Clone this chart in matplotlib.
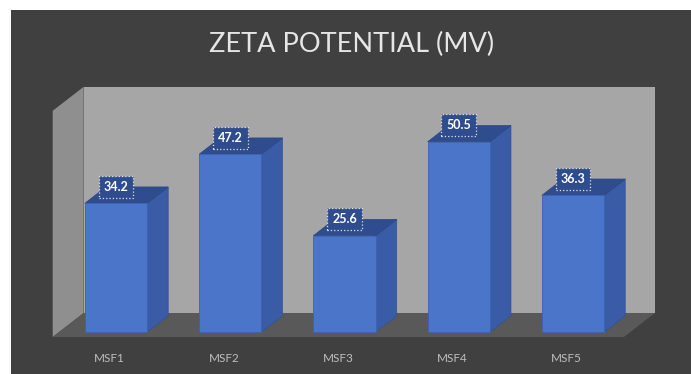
import matplotlib
matplotlib.use("Agg")
import matplotlib.pyplot as plt
from matplotlib.patches import Polygon, Rectangle

# --- data ---
categories = ["MSF1", "MSF2", "MSF3", "MSF4", "MSF5"]
zeta_mv = [34.2, 47.2, 25.6, 50.5, 36.3]
y_max = 60

# --- look ---
BG_DARK = "#404040"
WALL = "#a6a6a6"
SIDE_WALL = "#8f8f8f"
FLOOR = "#595959"
BAR_FRONT = "#4a75c8"
BAR_SIDE = "#3a5ca6"
BAR_TOP = "#2f4d8e"

# oblique projection: depth z in [0, 1] shifts a point right and up
PX_PER_CAT = 114.25
PX_PER_UNIT = 3.77
DEPTH_X = 31 / PX_PER_CAT
DEPTH_Y = 24 / PX_PER_UNIT
BAR_Z0, BAR_Z1 = 0.2, 0.88
BAR_W = 0.545


def proj(x, v, z):
    return (x + z * DEPTH_X, v + z * DEPTH_Y)


fig = plt.figure(figsize=(6.91, 3.74), dpi=100)
fig.patch.set_facecolor("white")
fig.patches.append(Rectangle((11 / 691, 0), 1, 1 - 10 / 374, transform=fig.transFigure,
                             facecolor=BG_DARK, edgecolor="none", zorder=-10))

ax = fig.add_axes([0, 0, 1, 1])
ax.set_facecolor("none")
ax.set_xlim(-109.8 / PX_PER_CAT, (691 - 109.8) / PX_PER_CAT)
ax.set_ylim((337 - 374) / PX_PER_UNIT, 337 / PX_PER_UNIT)
ax.axis("off")

x0, x1 = -0.5, 4.5
n = len(categories)

# back wall, left wall, floor
ax.add_patch(Polygon([proj(x0, 0, 1), proj(x1, 0, 1), proj(x1, y_max, 1), proj(x0, y_max, 1)],
                     closed=True, facecolor=WALL, edgecolor="none", zorder=1))
ax.add_patch(Polygon([proj(x0, 0, 0), proj(x0, 0, 1), proj(x0, y_max, 1), proj(x0, y_max, 0)],
                     closed=True, facecolor=SIDE_WALL, edgecolor="none", zorder=1))
ax.add_patch(Polygon([proj(x0, 0, 0), proj(x1, 0, 0), proj(x1, 0, 1), proj(x0, 0, 1)],
                     closed=True, facecolor=FLOOR, edgecolor="none", zorder=1))

for i, v in enumerate(zeta_mv):
    xl, xr = i - BAR_W / 2, i + BAR_W / 2
    # right side face
    ax.add_patch(Polygon([proj(xr, 0, BAR_Z0), proj(xr, 0, BAR_Z1), proj(xr, v, BAR_Z1), proj(xr, v, BAR_Z0)],
                         closed=True, facecolor=BAR_SIDE, edgecolor="#33528f", lw=0.5, zorder=3))
    # top face
    ax.add_patch(Polygon([proj(xl, v, BAR_Z0), proj(xr, v, BAR_Z0), proj(xr, v, BAR_Z1), proj(xl, v, BAR_Z1)],
                         closed=True, facecolor=BAR_TOP, edgecolor="#2a4682", lw=0.5, zorder=3))

fx, fy = proj(0, 0, BAR_Z0)
ax.bar([i + fx for i in range(n)], zeta_mv, bottom=fy, width=BAR_W,
       color=BAR_FRONT, edgecolor="#3b63b0", linewidth=0.6, zorder=4)

# value labels sit over the back edge of each bar top
for i, v in enumerate(zeta_mv):
    lx = i + BAR_Z0 * DEPTH_X
    ly = v + BAR_Z1 * DEPTH_Y
    ax.text(lx, ly, f"{v}", ha="center", va="center", fontsize=9, fontweight="bold",
            color="white", family="Lato", zorder=6,
            bbox=dict(boxstyle="square,pad=0.4", facecolor=BAR_TOP, edgecolor="#e0e0e0",
                      linestyle=":", linewidth=0.9))

for i, name in enumerate(categories):
    ax.text(i, -5.6, name, ha="center", va="center", fontsize=8.5,
            color="#bdbdbd", family="Lato", zorder=6)

fig.text(352 / 691, 1 - 44 / 374, "ZETA POTENTIAL (MV)", ha="center", va="center",
         fontsize=19.5, color="#e6e6e6", family="Lato")

fig.savefig("out.png", dpi=100, facecolor=fig.get_facecolor())
